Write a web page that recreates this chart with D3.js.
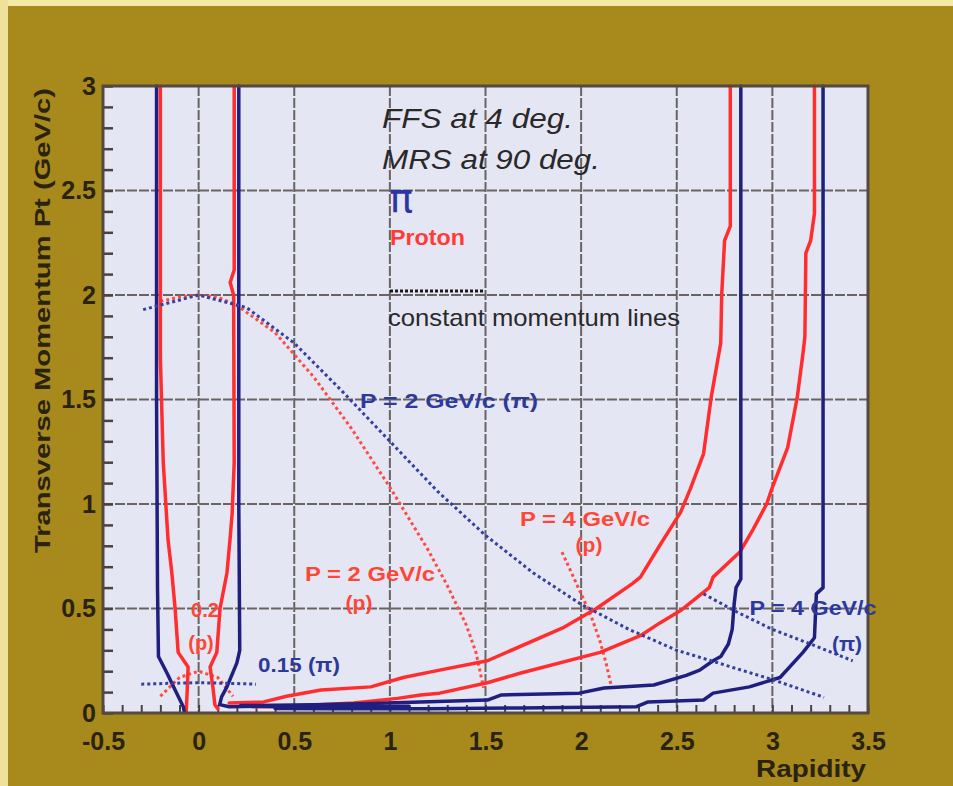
<!DOCTYPE html>
<html>
<head>
<meta charset="utf-8">
<script src="https://cdn.jsdelivr.net/npm/d3@7"></script>
<style>
  html, body { margin: 0; padding: 0; background: #a98a1f; }
  svg { display: block; }
</style>
</head>
<body>
<svg id="chart" width="953" height="786"></svg>
<script>
// Axis ticks
const xTickValues = [-0.5, 0, 0.5, 1, 1.5, 2, 2.5, 3, 3.5];
const yTickValues = [0, 0.5, 1, 1.5, 2, 2.5, 3];
const xGridValues = [0, 0.5, 1, 1.5, 2, 2.5, 3];
const yGridValues = [0.5, 1, 1.5, 2, 2.5];

// Acceptance boundaries, [rapidity, pt (GeV/c)]
// Mid-rapidity spectrometer (90 deg), pions
const piMrsLeft = [[-0.22,3],[-0.22,1.5],[-0.215,0.6],[-0.21,0.27],[-0.165,0.19],[-0.123,0.11],[-0.08,0.03],[-0.075,0.005]];
const piMrsRight = [[0.21,3],[0.21,1.0],[0.215,0.3],[0.2,0.24],[0.148,0.125],[0.12,0.077],[0.11,0.04],[0.16,0.03],[0.3,0.032],[0.55,0.03],[0.8,0.03],[1.1,0.032]];
// Mid-rapidity spectrometer (90 deg), protons
const pMrsLeft = [[-0.2,3],[-0.2,1.7],[-0.185,1.2],[-0.16,0.83],[-0.14,0.67],[-0.123,0.5],[-0.107,0.29],[-0.055,0.22],[-0.06,0.1],[-0.065,0.005]];
const pMrsRight = [[0.186,3],[0.186,2.12],[0.165,2.06],[0.183,2.0],[0.186,1.2],[0.175,0.95],[0.164,0.83],[0.148,0.67],[0.112,0.5],[0.095,0.29],[0.06,0.22],[0.075,0.12],[0.085,0.04],[0.1,0.02]];
// Forward spectrometer (4 deg), pions
const piFfsLeft = [[2.835,3],[2.835,0.64],[2.81,0.6],[2.8,0.52],[2.79,0.40],[2.77,0.33],[2.73,0.27],[2.69,0.25],[2.62,0.205],[2.55,0.18],[2.38,0.134],[2.12,0.12],[1.99,0.095],[1.58,0.086],[1.51,0.062],[1.16,0.053],[0.9,0.045],[0.6,0.04],[0.4,0.037],[0.22,0.036]];
const piFfsRight = [[3.265,3],[3.265,0.6],[3.23,0.57],[3.22,0.36],[3.16,0.29],[3.04,0.17],[2.88,0.125],[2.69,0.095],[2.64,0.062],[2.35,0.053],[2.29,0.03],[1.68,0.024],[1.2,0.02],[0.7,0.02],[0.4,0.022]];
// Forward spectrometer (4 deg), protons
const pFfsLeft = [[2.78,3],[2.78,2.33],[2.75,2.26],[2.735,2.0],[2.73,1.77],[2.68,1.51],[2.64,1.24],[2.57,1.07],[2.52,0.96],[2.41,0.8],[2.31,0.65],[2.27,0.62],[2.08,0.5],[1.91,0.41],[1.51,0.25],[1.26,0.205],[1.07,0.17],[0.9,0.125],[0.64,0.11],[0.46,0.08],[0.34,0.053],[0.16,0.048]];
const pFfsRight = [[3.22,3],[3.22,2.39],[3.2,2.26],[3.175,2.2],[3.17,1.8],[3.16,1.72],[3.13,1.51],[3.08,1.27],[3.0,1.08],[2.97,1.0],[2.9,0.88],[2.83,0.77],[2.69,0.65],[2.67,0.6],[2.52,0.49],[2.41,0.43],[2.31,0.37],[2.1,0.29],[1.68,0.19],[1.51,0.145],[1.26,0.095],[1.16,0.086],[1.04,0.07],[0.81,0.048],[0.43,0.03],[0.28,0.03]];

// Constant momentum lines
const piP015 = [[-0.3,0.138],[-0.15,0.142],[0,0.145],[0.15,0.142],[0.3,0.138]];
const piP2 = [[-0.29,1.93],[0,2.0],[0.25,1.94],[0.5,1.77],[0.75,1.54],[1.0,1.30],[1.25,1.06],[1.5,0.85],[1.75,0.67],[2.0,0.52],[2.25,0.40],[2.5,0.30],[2.75,0.23],[3.0,0.16],[3.27,0.075]];
const piP4 = [[2.64,0.57],[2.8,0.49],[3.0,0.40],[3.2,0.33],[3.42,0.25]];
const pP02 = [[-0.2,0.08],[-0.1,0.17],[0,0.2],[0.1,0.17],[0.18,0.08]];
const pP2 = [[-0.2,1.97],[-0.1,1.99],[0,2.0],[0.1,1.99],[0.2,1.95],[0.4,1.82],[0.6,1.61],[0.8,1.36],[1.0,1.08],[1.1,0.93],[1.2,0.78],[1.3,0.61],[1.4,0.42],[1.45,0.29],[1.49,0.12]];
const pP4 = [[1.9,0.77],[1.95,0.67],[2.0,0.57],[2.05,0.47],[2.1,0.34],[2.13,0.24],[2.16,0.12]];

const svg = d3.select("#chart");
const W = 953, H = 786;
const plotL = 103, plotR = 868, plotT = 86, plotB = 713;

// page background and scanned-edge highlight
svg.append("rect").attr("width", W).attr("height", H).attr("fill", "#a8891c");
svg.append("rect").attr("width", W).attr("height", 6).attr("fill", "#f4e9a6");
svg.append("rect").attr("width", 8).attr("height", H).attr("fill", "#efe09a");

const x = d3.scaleLinear().domain([-0.5, 3.5]).range([plotL, plotR]);
const y = d3.scaleLinear().domain([0, 3]).range([plotB, plotT]);

// plot area
svg.append("rect").attr("x", plotL).attr("y", plotT)
  .attr("width", plotR - plotL).attr("height", plotB - plotT)
  .attr("fill", "#e5e6f3");

// grid
const grid = svg.append("g").attr("stroke", "#6a6364").attr("stroke-width", 2).attr("stroke-dasharray", "10,2");
grid.selectAll(".gx").data(xGridValues).join("line")
  .attr("x1", d => x(d)).attr("x2", d => x(d)).attr("y1", plotT).attr("y2", plotB);
grid.selectAll(".gy").data(yGridValues).join("line")
  .attr("y1", d => y(d)).attr("y2", d => y(d)).attr("x1", plotL).attr("x2", plotR);

// minor ticks pointing into the plot
const tickColor = "#4a4040";
const xMinor = d3.axisTop(x).tickValues(d3.range(-0.5, 3.501, 0.1)).tickSize(8).tickFormat("");
const gxm = svg.append("g").attr("transform", `translate(0,${plotB})`).call(xMinor);
gxm.select(".domain").remove();
gxm.selectAll("line").attr("stroke", tickColor).attr("stroke-width", 2);

const yMinor = d3.axisRight(y).tickValues(d3.range(0, 3.001, 0.1)).tickSize(10).tickFormat("");
const gym = svg.append("g").attr("transform", `translate(${plotL},0)`).call(yMinor);
gym.select(".domain").remove();
gym.selectAll("line").attr("stroke", tickColor).attr("stroke-width", 2.5);

// curves
const line = d3.line().x(d => x(d[0])).y(d => y(d[1]));
const plot = svg.append("g");

function solid(data, color) {
  plot.append("path").datum(data).attr("d", line)
    .attr("fill", "none").attr("stroke", color).attr("stroke-width", 3.5)
    .attr("stroke-linejoin", "round").attr("stroke-linecap", "round");
}
function dotted(data, color) {
  plot.append("path").datum(data).attr("d", line)
    .attr("fill", "none").attr("stroke", color).attr("stroke-width", 3)
    .attr("stroke-dasharray", "3,3");
}

const RED = "#ff2d2d", BLUE = "#1e1f7e";
const RED_DOT = "#ff4a40", BLUE_DOT = "#3340a0";

dotted(pP2, RED_DOT);
dotted(pP4, RED_DOT);
dotted(pP02, RED_DOT);
solid(pMrsLeft, RED);
solid(pMrsRight, RED);
solid(pFfsLeft, RED);
solid(pFfsRight, RED);
solid(piMrsLeft, BLUE);
solid(piMrsRight, BLUE);
solid(piFfsLeft, BLUE);
solid(piFfsRight, BLUE);
dotted(piP2, BLUE_DOT);
dotted(piP4, BLUE_DOT);
dotted(piP015, BLUE_DOT);

// frame
svg.append("rect").attr("x", plotL).attr("y", plotT)
  .attr("width", plotR - plotL).attr("height", plotB - plotT)
  .attr("fill", "none").attr("stroke", "#54493f").attr("stroke-width", 3);

// tick labels
const FONT = "'Liberation Sans', Arial, Helvetica, sans-serif";
const fmt = d => String(d);
const gxl = svg.append("g").attr("transform", `translate(0,${plotB})`)
  .call(d3.axisBottom(x).tickValues(xTickValues).tickSize(0).tickPadding(19).tickFormat(fmt));
gxl.select(".domain").remove();
gxl.selectAll("text").attr("font-family", FONT).attr("font-weight", "bold")
  .attr("font-size", 25).attr("fill", "#2a2312");

const gyl = svg.append("g").attr("transform", `translate(${plotL},0)`)
  .call(d3.axisLeft(y).tickValues(yTickValues).tickSize(0).tickPadding(7).tickFormat(fmt));
gyl.select(".domain").remove();
gyl.selectAll("text").attr("font-family", FONT).attr("font-weight", "bold")
  .attr("font-size", 25).attr("fill", "#2a2312");

// axis titles
svg.append("text").attr("x", 866).attr("y", 777).attr("text-anchor", "end")
  .attr("font-family", FONT).attr("font-weight", "bold").attr("font-size", 23)
  .attr("fill", "#2a2312").attr("textLength", 110).attr("lengthAdjust", "spacingAndGlyphs")
  .text("Rapidity");
svg.append("text").attr("transform", "translate(50,88) rotate(-90)").attr("text-anchor", "end")
  .attr("font-family", FONT).attr("font-weight", "bold").attr("font-size", 22)
  .attr("fill", "#2a2312").attr("textLength", 465).attr("lengthAdjust", "spacingAndGlyphs")
  .text("Transverse Momentum Pt (GeV/c)");

// legend
function label(txt, px, py, opts) {
  const t = svg.append("text").attr("x", px).attr("y", py)
    .attr("font-family", opts.family || FONT)
    .attr("font-size", opts.size).attr("fill", opts.color)
    .attr("font-weight", opts.weight || "normal")
    .attr("font-style", opts.style || "normal")
    .attr("text-anchor", opts.anchor || "start")
    .text(txt);
  if (opts.len) t.attr("textLength", opts.len).attr("lengthAdjust", "spacingAndGlyphs");
  return t;
}
const INK = "#2b2829";
label("FFS at 4 deg.", 382, 128, {size: 28, color: INK, style: "italic", len: 191});
label("MRS at 90 deg.", 382, 169, {size: 28, color: INK, style: "italic", len: 218});
label("\u03c0", 389, 212, {size: 40, color: "#2b35a8", family: "'DejaVu Sans', sans-serif"});
label("Proton", 390, 245, {size: 22, color: "#ff3b35", weight: "bold", len: 75});
svg.append("line").attr("x1", 390).attr("x2", 485).attr("y1", 291).attr("y2", 291)
  .attr("stroke", "#1d1a1a").attr("stroke-width", 3).attr("stroke-dasharray", "3,2");
label("constant momentum lines", 388, 326, {size: 24, color: INK, len: 292});

// line annotations
const LBLUE = "#2c3a9c", LRED = "#ff4636";
label("P = 2 GeV/c (\u03c0)", 449, 408, {size: 21, color: LBLUE, weight: "bold", anchor: "middle", len: 178});
label("P = 2 GeV/c", 370, 581, {size: 21, color: LRED, weight: "bold", anchor: "middle", len: 130});
label("(p)", 359, 610, {size: 21, color: LRED, weight: "bold", anchor: "middle"});
label("P = 4 GeV/c", 585, 526, {size: 21, color: LRED, weight: "bold", anchor: "middle", len: 130});
label("(p)", 589, 552, {size: 21, color: LRED, weight: "bold", anchor: "middle"});
label("P = 4 GeV/c", 813, 615, {size: 21, color: LBLUE, weight: "bold", anchor: "middle", len: 127});
label("(\u03c0)", 847, 651, {size: 21, color: LBLUE, weight: "bold", anchor: "middle"});
label("0.15 (\u03c0)", 299, 672, {size: 20, color: LBLUE, weight: "bold", anchor: "middle", len: 82});
label("0.2", 205, 617, {size: 20, color: LRED, weight: "bold", anchor: "middle"});
label("(p)", 201, 650, {size: 20, color: LRED, weight: "bold", anchor: "middle"});
</script>
</body>
</html>
